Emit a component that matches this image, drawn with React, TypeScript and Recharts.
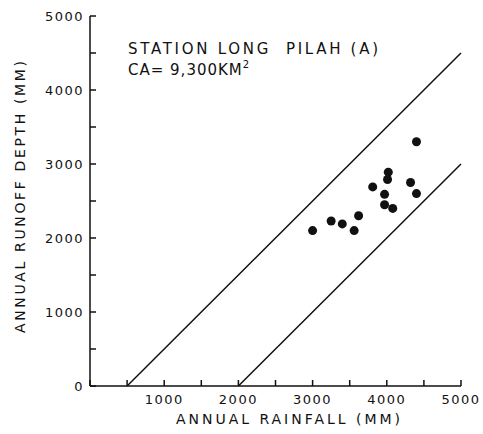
import { ScatterChart, Scatter, XAxis, YAxis, Label } from "recharts";

// annual rainfall (mm) vs annual runoff depth (mm), Long Pilah
const rainfall = [3000, 3250, 3400, 3560, 3620, 3810, 3970, 3970, 4080, 4010, 4020, 4320, 4400, 4400];
const runoff = [2100, 2230, 2190, 2100, 2300, 2690, 2590, 2450, 2400, 2790, 2890, 2750, 2600, 3300];

// envelope lines
const upperX = [500, 5000];
const upperY = [0, 4500];
const lowerX = [2000, 5000];
const lowerY = [0, 3000];

const axisTicks = [0, 500, 1000, 1500, 2000, 2500, 3000, 3500, 4000, 4500, 5000];
const xTickLabels = [1000, 2000, 3000, 4000, 5000];
const yTickLabels = [0, 1000, 2000, 3000, 4000, 5000];

const points = rainfall.map((x, i) => ({ x, y: runoff[i] }));
const upper = upperX.map((x, i) => ({ x, y: upperY[i] }));
const lower = lowerX.map((x, i) => ({ x, y: lowerY[i] }));

const FONT = "'DejaVu Sans', sans-serif";
const INK = "#111";
const TICK = 6;

const BottomTick = ({ x, y, payload }: any) => (
  <g>
    <line x1={x} y1={y} x2={x} y2={y - TICK} stroke={INK} strokeWidth={1.5} />
    {xTickLabels.includes(payload.value) && (
      <text x={x} y={y + 18} textAnchor="middle" fontSize={13} fontFamily={FONT} letterSpacing={1.5} fill={INK}>
        {payload.value}
      </text>
    )}
  </g>
);

const LeftTick = ({ x, y, payload }: any) => (
  <g>
    <line x1={x} y1={y} x2={x + TICK} y2={y} stroke={INK} strokeWidth={1.5} />
    {yTickLabels.includes(payload.value) && (
      <text x={x - 6} y={y} dy="0.36em" textAnchor="end" fontSize={13} fontFamily={FONT} letterSpacing={1.5} fill={INK}>
        {payload.value}
      </text>
    )}
  </g>
);

const TopTick = ({ x, y }: any) => (
  <line x1={x} y1={y} x2={x} y2={y + TICK} stroke={INK} strokeWidth={1.5} />
);

const RightTick = ({ x, y }: any) => (
  <line x1={x} y1={y} x2={x - TICK} y2={y} stroke={INK} strokeWidth={1.5} />
);

const Dot = ({ cx, cy }: any) => <circle cx={cx} cy={cy} r={4.5} fill={INK} />;
const NoDot = () => <g />;

export default function App() {
  return (
    <div style={{ position: "absolute", left: 0, top: 0, background: "#fff" }}>
      <ScatterChart width={483} height={434} margin={{ top: 16, right: 22, bottom: 0, left: 0 }}>
        <XAxis
          xAxisId="b"
          dataKey="x"
          type="number"
          domain={[0, 5000]}
          ticks={axisTicks}
          height={48}
          tickSize={0}
          tickMargin={0}
          tickLine={false}
          axisLine={{ stroke: INK, strokeWidth: 1.5 }}
          tick={<BottomTick />}
          interval={0}
        >
          <Label
            content={() => (
              <text
                x={288}
                y={424}
                textAnchor="middle"
                fontSize={14}
                fontFamily={FONT}
                textLength={224}
                lengthAdjust="spacing"
                fill={INK}
              >
                ANNUAL RAINFALL (MM)
              </text>
            )}
          />
        </XAxis>
        <XAxis
          xAxisId="t"
          dataKey="x"
          type="number"
          orientation="top"
          domain={[0, 5000]}
          ticks={axisTicks}
          height={0}
          tickSize={0}
          tickMargin={0}
          tickLine={false}
          axisLine={{ stroke: INK, strokeWidth: 1.5 }}
          tick={<TopTick />}
          interval={0}
        />
        <YAxis
          yAxisId="l"
          dataKey="y"
          type="number"
          domain={[0, 5000]}
          ticks={axisTicks}
          width={90}
          tickSize={0}
          tickMargin={0}
          tickLine={false}
          axisLine={{ stroke: INK, strokeWidth: 1.5 }}
          tick={<LeftTick />}
          interval={0}
        >
          <Label
            content={() => {
              const cx = 20;
              const cy = 197;
              return (
                <text
                  x={cx}
                  y={cy}
                  transform={`rotate(-90 ${cx} ${cy})`}
                  textAnchor="middle"
                  dominantBaseline="central"
                  fontSize={14}
                  fontFamily={FONT}
                  textLength={272}
                  lengthAdjust="spacing"
                  fill={INK}
                >
                  ANNUAL RUNOFF DEPTH (MM)
                </text>
              );
            }}
          />
        </YAxis>
        <YAxis
          yAxisId="r"
          dataKey="y"
          type="number"
          orientation="right"
          domain={[0, 5000]}
          ticks={axisTicks}
          width={0}
          tickSize={0}
          tickMargin={0}
          tickLine={false}
          axisLine={{ stroke: INK, strokeWidth: 1.5 }}
          tick={<RightTick />}
          interval={0}
        />
        <Scatter
          xAxisId="t"
          yAxisId="r"
          data={upper}
          line={{ stroke: INK, strokeWidth: 1.5 }}
          shape={NoDot}
          isAnimationActive={false}
        />
        <Scatter
          xAxisId="b"
          yAxisId="l"
          data={lower}
          line={{ stroke: INK, strokeWidth: 1.5 }}
          shape={NoDot}
          isAnimationActive={false}
        />
        <Scatter xAxisId="b" yAxisId="l" data={points} shape={Dot} isAnimationActive={false} />
        <text x={128} y={54} fontSize={15} fontFamily={FONT} textLength={250} lengthAdjust="spacing" fill={INK}>
          {"STATION LONG\u00a0\u00a0PILAH (A)"}
        </text>
        <text x={128} y={75} fontSize={15} fontFamily={FONT} letterSpacing={1} fill={INK}>
          CA= 9,300KM
          <tspan fontSize={10} dy={-7}>
            2
          </tspan>
        </text>
      </ScatterChart>
    </div>
  );
}
